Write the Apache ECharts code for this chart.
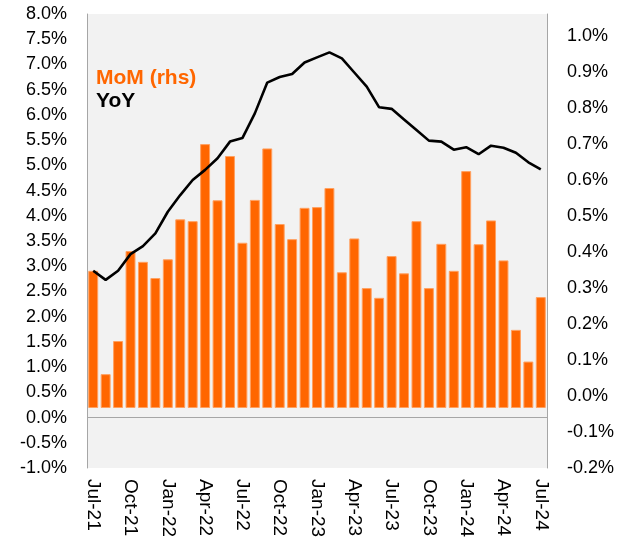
<!DOCTYPE html>
<html>
<head>
<meta charset="utf-8">
<script src="https://cdn.jsdelivr.net/npm/echarts@6/dist/echarts.min.js"></script>
<style>
  html, body { margin: 0; padding: 0; background: #fff; }
  #chart { width: 635px; height: 549px; }
</style>
</head>
<body>
<div id="chart"></div>
<script>
var months = ['Jul-21','Aug-21','Sep-21','Oct-21','Nov-21','Dec-21',
  'Jan-22','Feb-22','Mar-22','Apr-22','May-22','Jun-22','Jul-22','Aug-22','Sep-22','Oct-22','Nov-22','Dec-22',
  'Jan-23','Feb-23','Mar-23','Apr-23','May-23','Jun-23','Jul-23','Aug-23','Sep-23','Oct-23','Nov-23','Dec-23',
  'Jan-24','Feb-24','Mar-24','Apr-24','May-24','Jun-24','Jul-24'];

// month on month, % (rhs), measured from the bar base
var mom = [0.381, 0.094, 0.186, 0.436, 0.406, 0.361,
  0.413, 0.524, 0.519, 0.733, 0.577, 0.700, 0.459, 0.578, 0.721, 0.511, 0.469, 0.556,
  0.558, 0.611, 0.377, 0.471, 0.333, 0.306, 0.422, 0.374, 0.519, 0.333, 0.456, 0.381,
  0.658, 0.455, 0.521, 0.410, 0.217, 0.129, 0.308];

// year on year, % (lhs)
var yoy = [2.91, 2.73, 2.91, 3.24, 3.40, 3.65,
  4.08, 4.41, 4.71, 4.91, 5.14, 5.47, 5.54, 6.03, 6.64, 6.75, 6.81, 7.04,
  7.14, 7.24, 7.12, 6.84, 6.56, 6.15, 6.12, 5.91, 5.70, 5.49, 5.47, 5.31,
  5.36, 5.22, 5.39, 5.35, 5.25, 5.06, 4.92];

var font = "'Liberation Sans', Arial, sans-serif";
var axisGray = '#a6a6a6';

var myChart = echarts.init(document.getElementById('chart'));

var option = {
  animation: false,
  textStyle: { fontFamily: font },
  grid: {
    left: 87, right: 88, top: 14, bottom: 81,
    show: true, backgroundColor: '#f2f2f2', borderWidth: 0
  },
  legend: {
    orient: 'vertical',
    left: 86, top: 63,
    icon: 'none',
    itemWidth: 0, itemGap: 2,
    selectedMode: false,
    textStyle: { fontSize: 21, fontWeight: 'bold', fontFamily: font },
    data: [
      { name: 'MoM (rhs)', textStyle: { color: '#ff6600' } },
      { name: 'YoY', textStyle: { color: '#000000' } }
    ]
  },
  xAxis: {
    type: 'category',
    data: months,
    boundaryGap: true,
    axisLine: { show: false },
    axisTick: { show: false },
    axisLabel: {
      interval: 2,
      rotate: -90,
      margin: 11,
      fontSize: 19,
      color: '#000',
      fontFamily: font
    },
    splitLine: { show: false }
  },
  yAxis: [{
    type: 'value',
    position: 'left',
    min: -1, max: 8, interval: 0.5,
    axisLine: { show: true, lineStyle: { color: axisGray } },
    axisTick: { show: false },
    splitLine: { show: false },
    axisLabel: {
      margin: 20, fontSize: 18, color: '#000', fontFamily: font,
      formatter: function (v) { return v.toFixed(1) + '%'; }
    }
  }, {
    type: 'value',
    position: 'right',
    min: -0.2, max: 1.06, interval: 0.1,
    axisLine: { show: true, lineStyle: { color: axisGray } },
    axisTick: { show: false },
    splitLine: { show: false },
    axisLabel: {
      margin: 20, fontSize: 18, color: '#000', fontFamily: font,
      showMaxLabel: false,
      formatter: function (v) { return v.toFixed(1) + '%'; }
    }
  }, {
    // scale for the bars, same spacing as the rhs labels
    type: 'value',
    show: false,
    min: -0.1667, max: 1.0944
  }],
  series: [{
    name: 'MoM (rhs)',
    type: 'bar',
    yAxisIndex: 2,
    data: mom,
    barWidth: '80%',
    itemStyle: { color: '#ff6600', borderColor: '#ffa060', borderWidth: 1 },
    z: 2
  }, {
    name: 'YoY',
    type: 'line',
    yAxisIndex: 0,
    data: yoy,
    symbol: 'none',
    lineStyle: { color: '#000', width: 2.6 },
    itemStyle: { color: '#000' },
    z: 3,
    markLine: {
      silent: true,
      symbol: 'none',
      label: { show: false },
      lineStyle: { color: axisGray, width: 1, type: 'solid' },
      data: [{ yAxis: 0 }]
    }
  }]
};

myChart.setOption(option);
</script>
</body>
</html>
